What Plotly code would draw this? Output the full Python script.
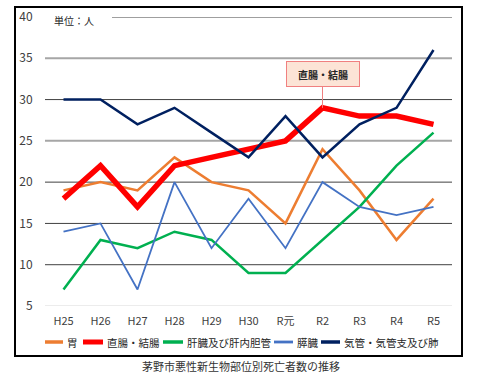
import plotly.graph_objects as go

categories = ["H25", "H26", "H27", "H28", "H29", "H30", "R元", "R2", "R3", "R4", "R5"]
stomach = [19, 20, 19, 23, 20, 19, 15, 24, 19, 13, 18]
colorectal = [18, 22, 17, 22, 23, 24, 25, 29, 28, 28, 27]
liver = [7, 13, 12, 14, 13, 9, 9, 13, 17, 22, 26]
pancreas = [14, 15, 7, 20, 12, 18, 12, 20, 17, 16, 17]
lung = [30, 30, 27, 29, 26, 23, 28, 23, 27, 29, 36]
series_names = ["胃", "直腸・結腸", "肝臓及び肝内胆管", "膵臓", "気管・気管支及び肺"]
y_ticks = [5, 10, 15, 20, 25, 30, 35, 40]

FONT = "Noto Sans CJK JP"
L, R, T, B, W, H = 45, 48, 17, 68, 500, 374
PW, PH = W - L - R, H - T - B


def px(x):
    return (x - L) / PW


def py(y):
    return (H - B - y) / PH


fig = go.Figure()
specs = [
    (stomach, "#ED7D31", 2.5),
    (colorectal, "#FF0000", 5.5),
    (liver, "#00B050", 2.5),
    (pancreas, "#4472C4", 1.8),
    (lung, "#002060", 2.5),
]
for name, (vals, col, w) in zip(series_names, specs):
    fig.add_trace(go.Scatter(x=categories, y=vals, mode="lines", name=name,
                             line=dict(color=col, width=w), showlegend=False))

shapes = []
annotations = []
grid_style = {5: ("#D9D9D9", 1), 10: ("#404040", 1), 15: ("#404040", 1), 20: ("#404040", 1),
              25: ("#A6A6A6", 2), 30: ("#404040", 1), 35: ("#A6A6A6", 2), 40: ("#404040", 1)}
for v in y_ticks:
    col, w = grid_style[v]
    x0 = px(112) if v == 40 else 0
    shapes.append(dict(type="line", xref="paper", yref="y", x0=x0, x1=1, y0=v, y1=v,
                       line=dict(color=col, width=w), layer="below"))
shapes.append(dict(type="rect", xref="paper", yref="paper", x0=px(15), x1=px(462),
                   y0=py(356), y1=py(7), line=dict(color="#000000", width=2)))

# custom legend (style only)
legend_pos = [(45, 63), (83, 103), (163, 183), (274, 293), (321, 340)]
ly = py(342)
for name, (vals, col, w), (a, b) in zip(series_names, specs, legend_pos):
    shapes.append(dict(type="line", xref="paper", yref="paper", x0=px(a), x1=px(b),
                       y0=ly, y1=ly, line=dict(color=col, width=min(w + 1, 5))))
    annotations.append(dict(text=name, xref="paper", yref="paper", x=px(b + 2), y=ly,
                            xanchor="left", yanchor="middle", showarrow=False,
                            font=dict(size=10.5, color="#262626")))

annotations += [
    dict(text="単位：人", xref="paper", yref="paper", x=px(52), y=py(20),
         xanchor="left", yanchor="middle", showarrow=False,
         font=dict(size=10, color="#262626")),
    dict(text="<b>直腸・結腸</b>", x="R2", y=29, xref="x", yref="y",
         ax=0, ay=-34, showarrow=True, arrowhead=0, arrowwidth=1,
         arrowcolor="#F08080", bgcolor="#FCE4D6", bordercolor="#F08080",
         borderwidth=1, borderpad=3, width=66, height=18,
         font=dict(size=10, color="#262626")),
    dict(text="茅野市悪性新生物部位別死亡者数の推移", xref="paper", yref="paper",
         x=px(241), y=py(366), xanchor="center", yanchor="middle", showarrow=False,
         font=dict(size=11, color="#333333")),
]

fig.update_layout(
    width=W, height=H,
    margin=dict(l=L, r=R, t=T, b=B, autoexpand=False),
    paper_bgcolor="white", plot_bgcolor="white",
    font=dict(family=FONT, color="#404040", size=11),
    showlegend=False,
    shapes=shapes,
    annotations=annotations,
    xaxis=dict(type="category", range=[-0.5, len(categories) - 0.5], showgrid=False,
               showline=False, zeroline=False, automargin=False,
               ticks="outside", ticklen=5, tickcolor="rgba(0,0,0,0)",
               tickfont=dict(size=11, color="#404040")),
    yaxis=dict(range=[5, 40], tickvals=y_ticks, showgrid=False, showline=False,
               zeroline=False, automargin=False, ticks="outside", ticklen=9,
               tickcolor="rgba(0,0,0,0)", tickfont=dict(size=12, color="#404040")),
)
fig.write_html("out.html", config={"displayModeBar": False},
               post_script="document.body.style.margin='0';")
